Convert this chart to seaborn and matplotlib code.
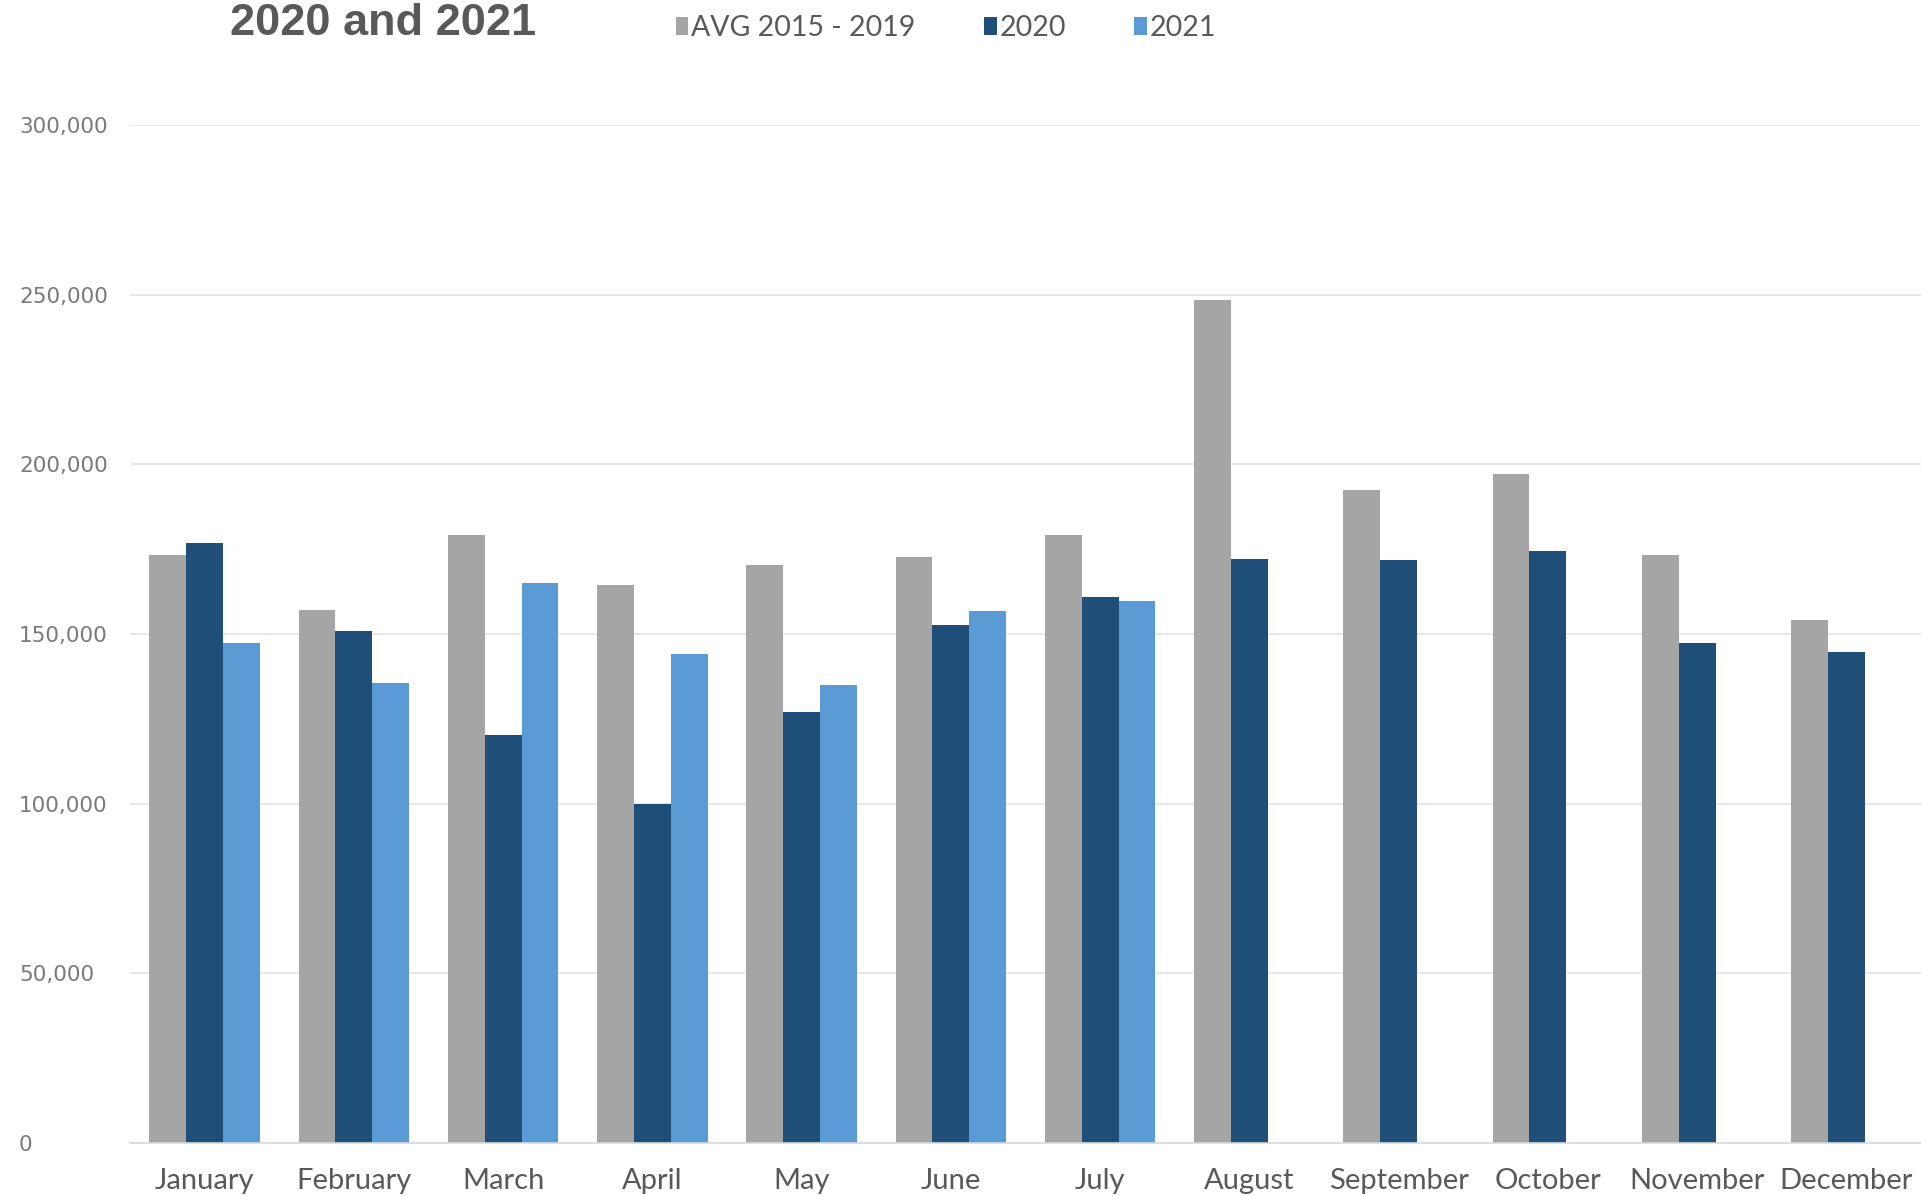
import pandas as pd
import matplotlib.pyplot as plt
import seaborn as sns
from matplotlib.ticker import FuncFormatter

# Data
months = ['January', 'February', 'March', 'April', 'May', 'June',
          'July', 'August', 'September', 'October', 'November', 'December']
avg_2015_2019 = [173300, 157000, 179100, 164300, 170400, 172600,
                 179100, 248400, 192400, 197100, 173300, 154200]
vals_2020 = [176900, 150900, 120200, 100000, 127100, 152700,
             161000, 172200, 171800, 174400, 147300, 144800]
vals_2021 = [147300, 135700, 165000, 144000, 135000, 156700, 159600]

series_names = ['AVG 2015 - 2019', '2020', '2021']
palette = ['#A5A5A5', '#1F4E79', '#5B9BD5']

# Long form table for seaborn
rows = []
for name, vals in zip(series_names, [avg_2015_2019, vals_2020, vals_2021]):
    for m, v in zip(months, vals):
        rows.append({'month': m, 'series': name, 'value': v})
df = pd.DataFrame(rows)

sns.set_theme(style='white')
plt.rcParams['font.family'] = ['Lato', 'DejaVu Sans']
text_gray = '#595959'

fig = plt.figure(figsize=(19.21, 11.96), dpi=100)
ax = fig.add_axes([130 / 1921, 1 - 1143 / 1196, 1 - 130 / 1921, (1143 - 125) / 1196])

sns.barplot(data=df, x='month', y='value', hue='series', order=months,
            hue_order=series_names, palette=palette, width=0.74,
            errorbar=None, saturation=1, linewidth=0, ax=ax)

ax.set_ylim(0, 300000)
ax.set_xlim(-0.5, 11.5)
ax.set_yticks(range(0, 300001, 50000))
ax.yaxis.set_major_formatter(FuncFormatter(lambda v, p: f'{int(v):,}'))
ax.grid(axis='y', color='#e3e3e3', linewidth=1.2)
ax.set_axisbelow(True)
for s in ['top', 'right', 'left']:
    ax.spines[s].set_visible(False)
ax.spines['bottom'].set_color('#d9d9d9')
ax.spines['bottom'].set_linewidth(1.2)
ax.set_xlabel('')
ax.set_ylabel('')

ax.tick_params(axis='y', length=0, pad=80, labelsize=15.5, labelcolor='#7a7a7a')
for lbl in ax.get_yticklabels():
    lbl.set_horizontalalignment('left')
    lbl.set_family(['DejaVu Sans'])
ax.tick_params(axis='x', length=0, pad=18, labelsize=21, labelcolor=text_gray)

# Legend across the top
handles, labels = ax.get_legend_handles_labels()
ax.legend_.remove()
fig.legend(handles, labels, loc='center left', bbox_to_anchor=(650 / 1921, 1 - 28 / 1196),
           ncol=3, frameon=False, fontsize=20.5, handlelength=0.45, handleheight=0.6,
           handletextpad=0.1, columnspacing=2.4, labelcolor=text_gray)

# Title (top line clipped in the reference)
fig.text(230 / 1921, 1 - 35 / 1196, '2020 and 2021', fontsize=32.5, fontweight='bold',
         color=text_gray, family=['Liberation Sans', 'DejaVu Sans'], va='baseline')

plt.savefig('out.png', dpi=100)
plt.close()
